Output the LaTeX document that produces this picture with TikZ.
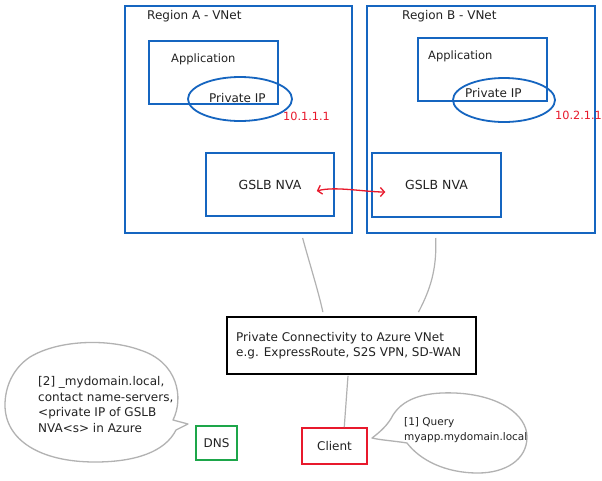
\documentclass[tikz,border=0pt]{standalone}
\usepackage{fontspec}
\setmainfont{DejaVu Sans}
\usetikzlibrary{calc,shapes.geometric,arrows.meta}
\definecolor{azblue}{RGB}{21,101,192}
\definecolor{azred}{RGB}{232,25,44}
\definecolor{azgreen}{RGB}{29,166,74}
\definecolor{lgray}{RGB}{178,178,178}
\definecolor{txt}{RGB}{34,34,34}
\begin{document}
\begin{tikzpicture}[x=1pt,y=-1pt,
  font=\fontsize{12}{15}\selectfont, text=txt,
  region/.style={draw=azblue, line width=2pt, inner sep=0pt},
  inbox/.style={draw=azblue, line width=1.3pt, inner sep=0pt},
  ipell/.style={ellipse, draw=azblue, line width=1.8pt, inner sep=0pt, minimum width=104pt, minimum height=44pt},
  lbl/.style={anchor=west, inner sep=0pt},
  iplbl/.style={anchor=west, inner sep=0pt, text=azred, font=\fontsize{11.3}{13}\selectfont},
  link/.style={draw=lgray, line width=1.2pt},
  bubble/.style={draw=lgray, line width=1.3pt, line join=round}]
\useasboundingbox (0,0) rectangle (602,480);
\fill[white] (0,0) rectangle (602,480);

% Regions
\node[region, minimum width=227pt, minimum height=227pt] (regA) at (238.5,119.5) {};
\node[region, minimum width=228pt, minimum height=227pt] (regB) at (481,119.5) {};
\node[lbl] (regAl) at (147,16) {Region A - VNet};
\node[lbl] (regBl) at (402,16) {Region B - VNet};

% Applications
\node[inbox, minimum width=129pt, minimum height=63pt] (appA) at (213.5,72.5) {};
\node[inbox, minimum width=129pt, minimum height=63pt] (appB) at (482.5,69.5) {};
\node[lbl, font=\fontsize{11.5}{14}\selectfont] (appAl) at (171,59) {Application};
\node[lbl, font=\fontsize{11.5}{14}\selectfont] (appBl) at (428,56) {Application};

% Private IPs
\node[ipell] (ipA) at (240,99) {};
\node[ipell, minimum width=102pt] (ipB) at (504,100) {};
\node[lbl] (ipAl) at (209,98) {Private IP};
\node[lbl] (ipBl) at (465,93) {Private IP};
\node[iplbl] (ipAn) at (283,116) {10.1.1.1};
\node[iplbl] (ipBn) at (555,115) {10.2.1.1};

% GSLB NVAs
\node[inbox, line width=1.5pt, minimum width=128pt, minimum height=63pt, font=\fontsize{12.5}{15}\selectfont] (gslbA) at (270,184.5) {GSLB NVA};
\node[inbox, line width=1.5pt, minimum width=129pt, minimum height=64pt, font=\fontsize{12.5}{15}\selectfont] (gslbB) at (436.5,185) {GSLB NVA};

\coordinate (arrL) at ($(gslbA.east)+(-18,6.5)$);
\coordinate (arrR) at ($(gslbB.west)+(14,7)$);
\draw[azred, line width=1.3pt, {Straight Barb[length=4pt,width=9pt]}-{Straight Barb[length=4pt,width=9pt]}]
  (arrL) .. controls (335,186) and (365,192) .. (arrR);

% Connectivity
\node[draw=black, line width=1.8pt, minimum width=249pt, minimum height=57pt, inner sep=0pt] (conn) at (351.5,345.5) {};
\node[lbl, align=left] (connt) at (236,345.5) {Private Connectivity to Azure VNet\\e.g. ExpressRoute, S2S VPN, SD-WAN};

\draw[link] ($(regA.south west)!0.78!(regA.south east)+(0,4)$) .. controls (310,265) and (318,290) .. ($(conn.north west)!0.386!(conn.north east)+(0,-4)$);
\draw[link] ($(regB.south west)!0.303!(regB.south east)+(0,4)$) .. controls (437,270) and (430,290) .. ($(conn.north west)!0.767!(conn.north east)+(0,-4)$);

% Client and DNS
\node[draw=azred, line width=1.8pt, minimum width=65pt, minimum height=36pt, inner sep=0pt] (client) at (334.5,446) {Client};
\node[draw=azgreen, line width=1.6pt, minimum width=41pt, minimum height=34pt, inner sep=0pt] (dns) at (216.5,443) {DNS};

\draw[link] ($(conn.south west)!0.486!(conn.south east)+(0,1)$) -- ($(client.north west)!0.646!(client.north east)$);

% Bubble 1 (client query)
\draw[bubble] (372,438) .. controls (380,432) and (388,425) .. (393,415)
  .. controls (405,396) and (430,392) .. (455,393)
  .. controls (500,395) and (527,415) .. (527,437)
  .. controls (527,460) and (505,473) .. (478,473)
  .. controls (445,473) and (420,460) .. (407,443)
  .. controls (395,441) and (380,440) .. cycle;
\node[lbl, align=left, font=\fontsize{10.5}{15}\selectfont] (b1t) at (404,430.5) {[1] Query\\myapp.mydomain.local};

% Bubble 2 (DNS answer)
\draw[bubble] (188,424) -- (173,420)
  .. controls (184,398) and (178,362) .. (140,350)
  .. controls (110,339) and (60,339) .. (30,357)
  .. controls (12,369) and (5,388) .. (5,405)
  .. controls (5,440) and (40,462) .. (95,462)
  .. controls (135,462) and (165,452) .. (176,430)
  -- cycle;
\node[lbl, align=left, font=\fontsize{12}{15.6}\selectfont] (b2t) at (38,404.5) {[2] \_mydomain.local,\\contact name-servers,\\<private IP of GSLB\\NVA<s> in Azure};
\end{tikzpicture}
\end{document}
